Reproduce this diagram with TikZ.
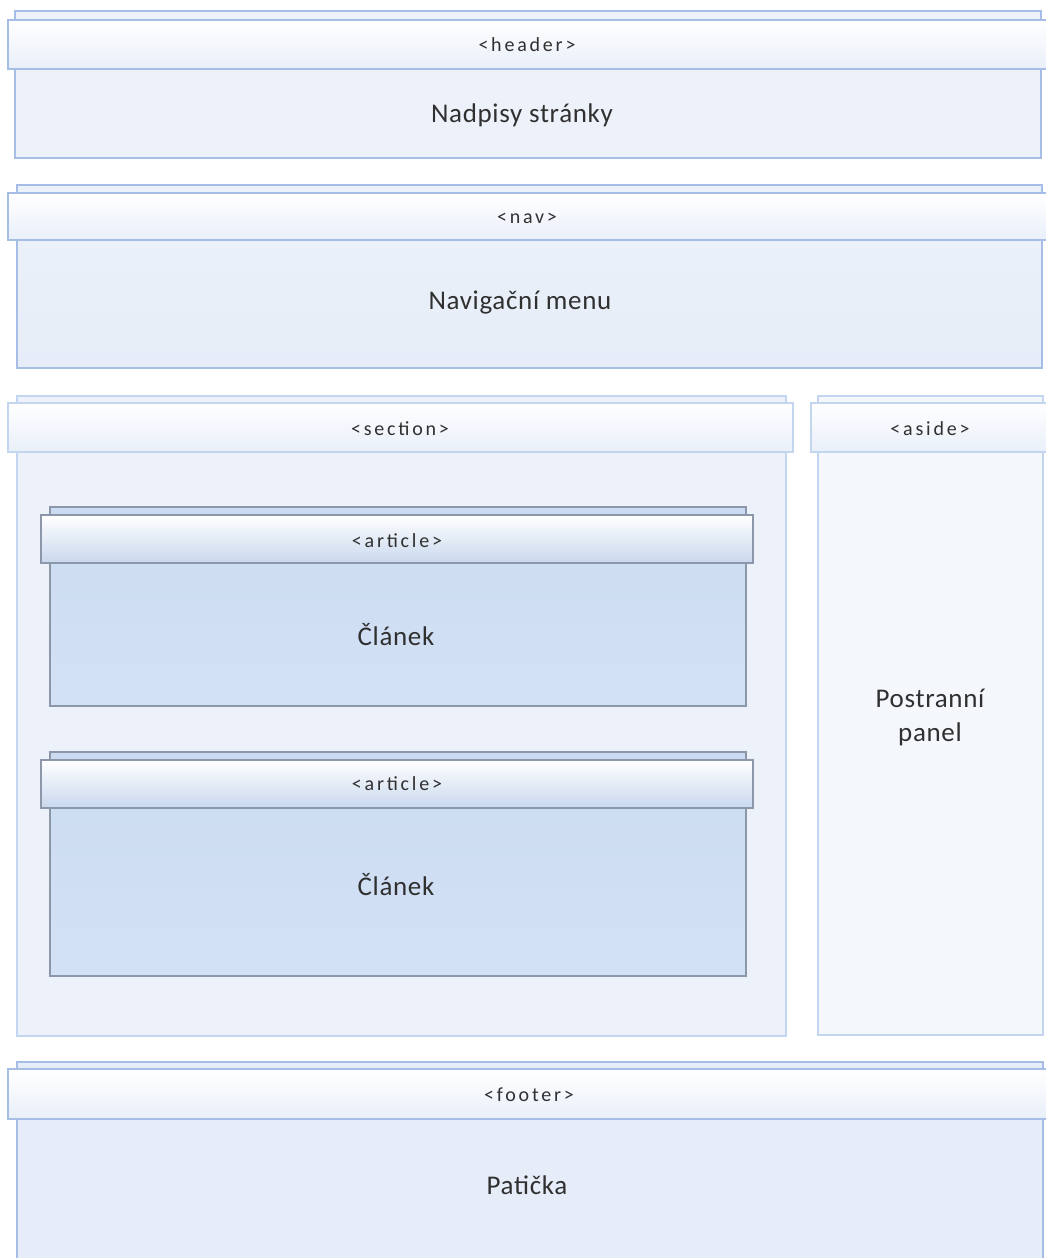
\documentclass[tikz,border=0pt]{standalone}
\usepackage{fontspec}
\setmainfont{Carlito}
\newfontfamily\tagfont[LetterSpace=14]{Carlito}
\newfontfamily\titlefont[LetterSpace=2.5]{Carlito}

\definecolor{edgeblue}{HTML}{A6BEE5}
\definecolor{edgelight}{HTML}{C3D5EF}
\definecolor{edgegrey}{HTML}{8C97A9}
\definecolor{paleA}{HTML}{EDF2FA}
\definecolor{paleB}{HTML}{E6EDF8}
\definecolor{paleC}{HTML}{F4F7FC}
\definecolor{artfill}{HTML}{CBDBF1}
\definecolor{artfillB}{HTML}{D3E1F4}
\definecolor{artband}{HTML}{C9D8EE}
\definecolor{bandlow}{HTML}{E9EFF9}
\definecolor{inktext}{HTML}{303030}

\tikzset{
  block/.style={draw=edgeblue, line width=1.4pt, anchor=north west, inner sep=0pt, outer sep=0pt},
  band/.style={block, top color=white, bottom color=bandlow},
  artblock/.style={block, draw=edgegrey, top color=artfill, bottom color=artfillB},
  artband/.style={block, draw=edgegrey, top color=white, bottom color=artband},
  tag/.style={text=inktext, font=\tagfont\fontsize{20}{24}\selectfont, inner sep=0pt},
  title/.style={text=inktext, font=\titlefont\fontsize{27}{34}\selectfont, inner sep=0pt, align=center},
}
% \boxat{style}{name}{x1}{y1}{x2}{y2}
\newcommand\boxat[6]{%
  \pgfmathsetmacro\bw{#5-#3}\pgfmathsetmacro\bh{#6-#4}%
  \node[#1, minimum width=\bw pt, minimum height=\bh pt] (#2) at (#3,#4) {};}

\begin{document}
\begin{tikzpicture}[x=1pt,y=-1pt]
\useasboundingbox (0,0) rectangle (1046,1258);

% header
\boxat{block, fill=paleA}{hdr}{15}{11}{1041}{158}
\boxat{band}{hdrband}{8}{20}{1052}{69}
\node[tag] (hdrtag) at (527,45) {<header>};
\node[title] (hdrtxt) at (522,115) {Nadpisy stránky};

% navigation
\boxat{block, top color=paleA, bottom color=paleB}{nav}{17}{185}{1042}{368}
\boxat{band}{navband}{8}{193}{1052}{240}
\node[tag] (navtag) at (527,218) {<nav>};
\node[title] (navtxt) at (520,303) {Navigační menu};

% section with two articles
\boxat{block, fill=paleA, draw=edgelight}{sec}{17}{396}{786}{1036}
\boxat{band, draw=edgelight}{secband}{8}{403}{793}{452}
\node[tag] (sectag) at (400,429) {<section>};

\boxat{artblock}{artA}{50}{507}{746}{706}
\boxat{artband}{artAband}{41}{515}{753}{563}
\node[tag] (artAtag) at (397,541) {<article>};
\node[title] (artAtxt) at (396,635) {Článek};

\boxat{artblock}{artB}{50}{752}{746}{976}
\boxat{artband}{artBband}{41}{760}{753}{808}
\node[tag] (artBtag) at (397,784) {<article>};
\node[title] (artBtxt) at (396,885) {Článek};

% aside
\boxat{block, fill=paleC, draw=edgelight}{asd}{818}{396}{1043}{1035}
\boxat{band, draw=edgelight}{asdband}{811}{403}{1052}{452}
\node[tag] (asdtag) at (930,429) {<aside>};
\node[title] (asdtxt) at (930,717) {Postranní\\panel};

% footer
\boxat{block, fill=paleB}{ftr}{17}{1062}{1043}{1270}
\boxat{band}{ftrband}{8}{1069}{1052}{1119}
\node[tag] (ftrtag) at (529,1095) {<footer>};
\node[title] (ftrtxt) at (527,1185) {Patička};
\end{tikzpicture}
\end{document}
